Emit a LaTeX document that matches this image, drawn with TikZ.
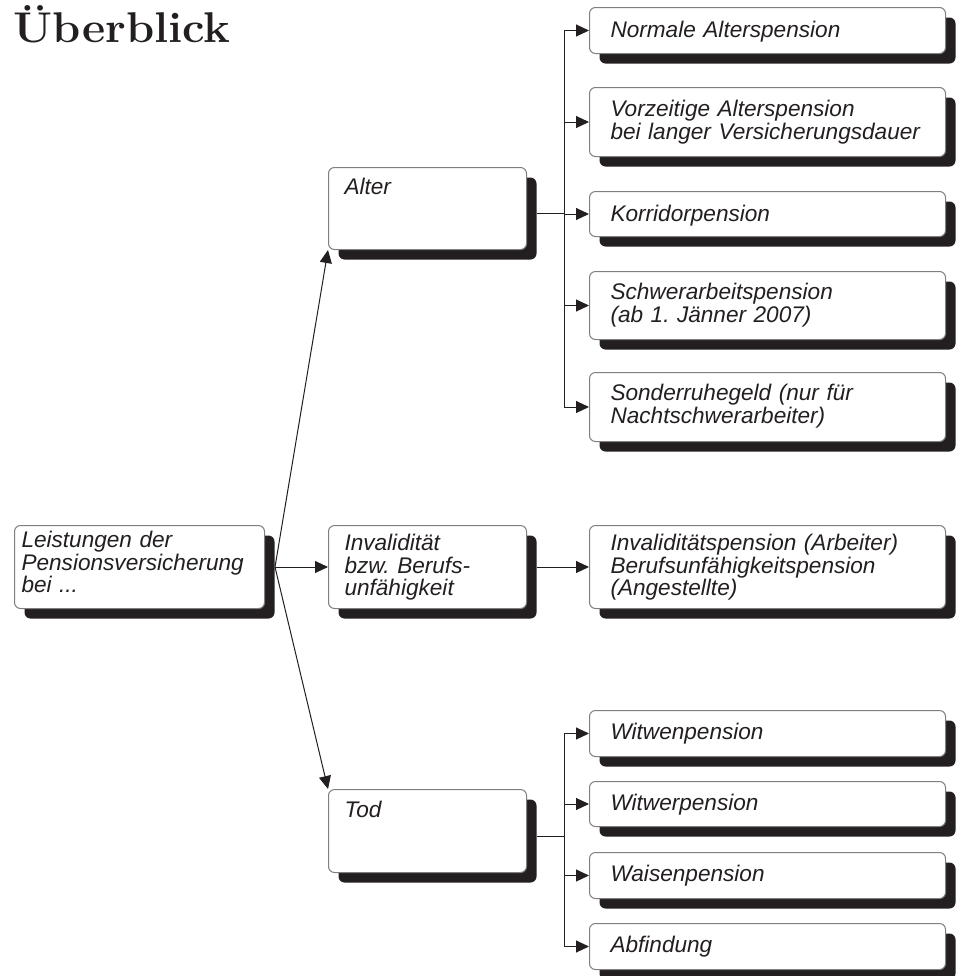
\documentclass[tikz,border=0pt]{standalone}
\usepackage{fontspec}
\newfontfamily\kastenfont{Liberation Sans}
\usetikzlibrary{arrows.meta,shadows,calc}
\definecolor{tinte}{HTML}{231F20}
\definecolor{rahmen}{HTML}{7F7F7F}
\frenchspacing

\begin{document}
\begin{tikzpicture}[x=0.5pt,y=-0.5pt,
  kasten/.style={draw=rahmen, line width=0.5pt, fill=white, rounded corners=3pt,
    drop shadow={shadow xshift=5pt, shadow yshift=-5pt, fill=tinte, opacity=1},
    anchor=north west, align=left, inner ysep=0pt, text=tinte,
    font=\kastenfont\itshape\fontsize{11.3}{11.35}\selectfont},
  rechts/.style={kasten, inner xsep=10.5pt, text width=157pt},
  mitte/.style={kasten, inner xsep=8pt, text width=83pt},
  linie/.style={draw=tinte, line width=0.5pt},
  pfeil/.style={linie, -{Triangle[length=6.5pt,width=6pt]}}]

\useasboundingbox (0,0) rectangle (955,976);

% title
\node[anchor=base west, inner sep=0pt, text=tinte,
      font=\bfseries\fontsize{21.5}{21.5}\selectfont] (titel) at (13,42)
      {\scalebox{1.05}[1]{Überblick}};

% left and middle column
\node[kasten, inner xsep=3.5pt, text width=118pt, text height=11pt, text depth=30.5pt]
      (wurzel) at (14,525) {Leistungen der\\Pensionsversicherung\\bei ...};
\node[mitte, text height=13.5pt, text depth=27.5pt] (alter) at (328,167) {Alter};
\node[mitte, text height=12.5pt, text depth=29pt] (invalid) at (328,525)
      {Invalidität\\bzw. Berufs-\\unfähigkeit};
\node[mitte, text height=14pt, text depth=27.5pt] (tod) at (328,789) {Tod};

% right column
\node[rechts, text height=15pt, text depth=8pt] (normal) at (589,7) {Normale Alterspension};
\node[rechts, text height=14.5pt, text depth=20pt] (vorzeitig) at (589,87)
      {Vorzeitige Alterspension\\bei langer Versicherungsdauer};
\node[rechts, text height=15pt, text depth=7.5pt] (korridor) at (589,191) {Korridorpension};
\node[rechts, text height=14pt, text depth=20pt] (schwer) at (589,271)
      {Schwerarbeitspension\\(ab 1. Jänner 2007)};
\node[rechts, text height=14pt, text depth=20.5pt] (sonder) at (589,372)
      {Sonderruhegeld (nur für\\Nachtschwerarbeiter)};
\node[rechts, text height=12.5pt, text depth=29pt] (ipension) at (589,525)
      {Invaliditätspension (Arbeiter)\\Berufsunfähigkeitspension\\(Angestellte)};
\node[rechts, text height=14.5pt, text depth=8.5pt] (witwen) at (589,710) {Witwenpension};
\node[rechts, text height=14.5pt, text depth=8pt] (witwer) at (589,781) {Witwerpension};
\node[rechts, text height=14.5pt, text depth=8.5pt] (waisen) at (589,852) {Waisenpension};
\node[rechts, text height=14.5pt, text depth=8.5pt] (abfindung) at (589,923) {Abfindung};

% connectors
\coordinate (wurzel-aus) at ($(wurzel.east)+(10,0)$);
\coordinate (invalid-aus) at ($(invalid.east)+(10,0)$);
\coordinate (alter-aus) at ($(alter.east)+(10,5)$);
\coordinate (tod-aus) at ($(tod.east)+(10,5)$);
\coordinate (gabel-a) at ($(alter-aus)+(27,0)$);
\coordinate (gabel-t) at ($(tod-aus)+(27,0)$);

\draw[pfeil] (wurzel-aus) -- (alter.south west);
\draw[pfeil] (wurzel-aus) -- (invalid.west);
\draw[pfeil] (wurzel-aus) -- (tod.north west);
\draw[pfeil] (invalid-aus) -- (ipension.west);

\draw[linie] (alter-aus) -- (gabel-a);
\draw[linie] (gabel-a |- normal.west) -- (gabel-a |- sonder.west);
\foreach \ziel in {normal,vorzeitig,korridor,schwer,sonder}
  \draw[pfeil] (gabel-a |- \ziel.west) -- (\ziel.west);

\draw[linie] (tod-aus) -- (gabel-t);
\draw[linie] (gabel-t |- witwen.west) -- (gabel-t |- abfindung.west);
\foreach \ziel in {witwen,witwer,waisen,abfindung}
  \draw[pfeil] (gabel-t |- \ziel.west) -- (\ziel.west);

\end{tikzpicture}
\end{document}
